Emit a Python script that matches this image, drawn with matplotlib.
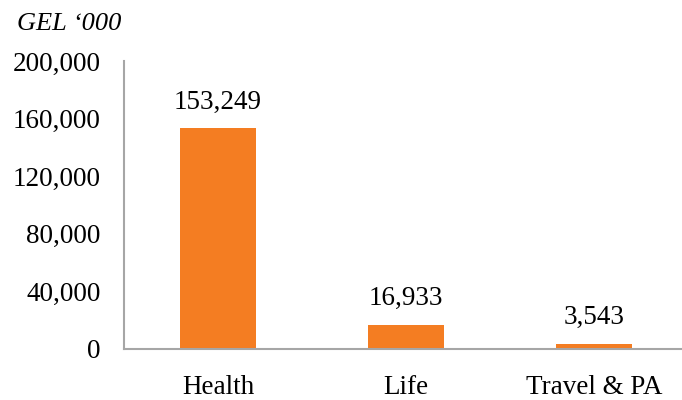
import matplotlib
matplotlib.use("Agg")
import matplotlib.pyplot as plt

categories = ["Health", "Life", "Travel & PA"]
values = [153249, 16933, 3543]
yticks = [0, 40000, 80000, 120000, 160000, 200000]

plt.rcParams['font.family'] = ['Liberation Serif', 'DejaVu Serif']

fig = plt.figure(figsize=(6.82, 4.0), dpi=100)
ax = fig.add_axes([0.1818, 0.1275, 0.827, 0.72])
x = range(len(categories))
ax.bar(x, values, width=0.4, color="#F47D22", zorder=2)
ax.set_xlim(-0.5, 2.5)
ax.set_ylim(0, 200000)
ax.set_yticks(yticks)
ax.set_yticklabels([f"{v:,}" for v in yticks])
ax.set_xticks(list(x))
ax.set_xticklabels(categories)
ax.tick_params(axis='both', length=0, labelsize=19.5, colors="#000000")
ax.tick_params(axis='y', pad=17)
ax.tick_params(axis='x', pad=19)
for s in ["top", "right"]:
    ax.spines[s].set_visible(False)
for s in ["left", "bottom"]:
    ax.spines[s].set_color("#A6A6A6")
    ax.spines[s].set_linewidth(1.5)
for xi, v in zip(x, values):
    ax.annotate(f"{v:,}", (xi, v), xytext=(0, 10), textcoords="offset points",
                ha="center", va="bottom", fontsize=19.5)
fig.text(0.025, 0.94, "GEL \u2018000", fontsize=19, style="italic", ha="left", va="center")
fig.savefig("out.png", dpi=100)
